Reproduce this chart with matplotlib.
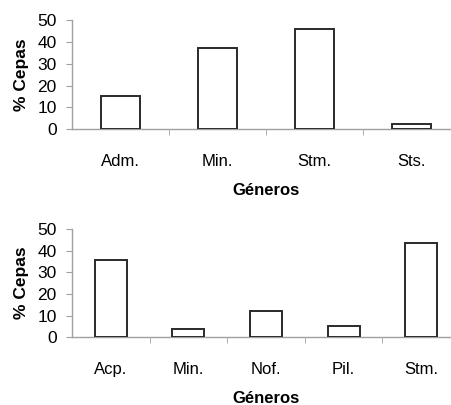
import matplotlib
matplotlib.use("Agg")
import matplotlib.pyplot as plt

plt.rcParams["font.family"] = ["Liberation Sans", "DejaVu Sans"]

top_genera = ["Adm.", "Min.", "Stm.", "Sts."]
top_values = [15.4, 37.1, 45.9, 2.4]

bottom_genera = ["Acp.", "Min.", "Nof.", "Pil.", "Stm."]
bottom_values = [35.9, 3.8, 12.1, 5.3, 43.6]

axis_grey = "#a0a0a0"


def draw_panel(ax, names, values):
    """Excel-like bar panel with white bars"""
    n = len(names)
    ax.bar(range(n), values, width=0.41, color="white",
           edgecolor="#2a2a2a", linewidth=1.4, zorder=3)
    ax.set_xlim(-0.5, n - 0.5)
    ax.set_ylim(0, 50)
    ax.set_yticks([0, 10, 20, 30, 40, 50])
    ax.set_xticks(range(n))
    ax.set_xticklabels(names)
    ax.set_xticks([i + 0.5 for i in range(n - 1)], minor=True)
    ax.tick_params(axis="x", which="major", length=0, pad=18, labelsize=12)
    ax.tick_params(axis="x", which="minor", length=4, color=axis_grey)
    ax.tick_params(axis="y", length=4, color=axis_grey, pad=7, labelsize=12.5)
    for side in ["top", "right"]:
        ax.spines[side].set_visible(False)
    for side in ["left", "bottom"]:
        ax.spines[side].set_color(axis_grey)
        ax.spines[side].set_linewidth(1.0)
    ax.set_xlabel("Géneros", fontsize=12, fontweight="bold", labelpad=10)
    ax.set_ylabel("% Cepas", fontsize=12.5, fontweight="bold", labelpad=6)


fig = plt.figure(figsize=(4.52, 4.05), dpi=100)
ax1 = fig.add_axes([72 / 452, 1 - 129.3 / 405, 388 / 452, 109.3 / 405])
ax2 = fig.add_axes([72 / 452, 1 - 337.3 / 405, 388 / 452, 108.3 / 405])

draw_panel(ax1, top_genera, top_values)
draw_panel(ax2, bottom_genera, bottom_values)

fig.savefig("out.png", dpi=100)
